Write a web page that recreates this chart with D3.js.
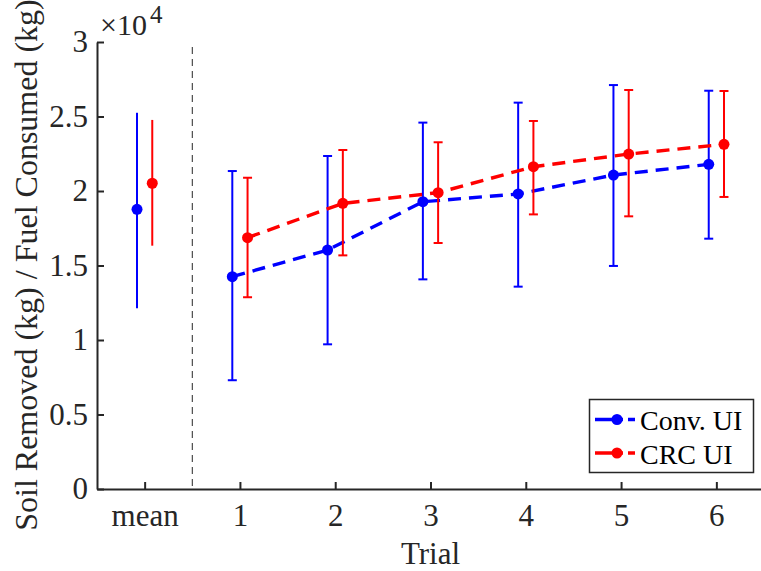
<!DOCTYPE html>
<html><head><meta charset="utf-8">
<script src="https://cdn.jsdelivr.net/npm/d3@7/dist/d3.min.js"></script>
<style>body{margin:0;background:#fff}svg{display:block}</style>
</head><body>
<script>
const categories = ["mean","1","2","3","4","5","6"];
const convMean = [1.877,1.425,1.604,1.928,1.980,2.107,2.179];
const convLow  = [1.213,0.730,0.971,1.407,1.358,1.497,1.680];
const convHigh = [2.525,2.134,2.235,2.459,2.593,2.711,2.673];
const crcMean  = [2.052,1.687,1.917,1.989,2.163,2.248,2.313];
const crcLow   = [1.633,1.287,1.568,1.651,1.843,1.830,1.960];
const crcHigh  = [2.477,2.089,2.275,2.327,2.470,2.678,2.671];
const yTicks = [0,0.5,1,1.5,2,2.5,3];
const yTickLabels = ["0","0.5","1","1.5","2","2.5","3"];

const FONT='"Liberation Serif","Times New Roman",Times,serif';
const W=761,H=571;
const svg=d3.select("body").append("svg").attr("width",W).attr("height",H);
const x=d3.scaleLinear().domain([-0.5,6.5]).range([97,764]);
const y=d3.scaleLinear().domain([0,3]).range([489,42]);
const axisColor="#262626";
const off=0.08;

// axes
const gx=svg.append("g").attr("transform","translate(0,489)")
 .call(d3.axisBottom(x).tickValues(d3.range(7)).tickFormat(i=>categories[i]).tickSizeInner(-7).tickSizeOuter(0).tickPadding(15));
const gy=svg.append("g").attr("transform","translate(97,0)")
 .call(d3.axisLeft(y).tickValues(yTicks).tickFormat((d,i)=>yTickLabels[i]).tickSizeInner(-7).tickSizeOuter(0).tickPadding(9));
[gx,gy].forEach(g=>{
  g.attr("font-family",FONT).attr("font-size",31);
  g.selectAll("path").attr("stroke",axisColor).attr("stroke-width",2);
  g.selectAll("line").attr("stroke",axisColor).attr("stroke-width",2);
  g.selectAll("text").attr("fill",axisColor).attr("font-family",FONT).attr("font-size",31);
});

// divider
svg.append("line").attr("x1",x(0.5)).attr("x2",x(0.5)).attr("y1",47).attr("y2",489)
 .attr("stroke","#262626").attr("stroke-width",1).attr("stroke-dasharray","7,5");

function series(mean,low,high,color,dx){
  const g=svg.append("g");
  const pts=d3.range(1,7);
  g.append("path").datum(pts)
   .attr("d",d3.line().x(i=>x(i+dx)).y(i=>y(mean[i])))
   .attr("fill","none").attr("stroke",color).attr("stroke-width",3.4).attr("stroke-dasharray","13,8");
  d3.range(7).forEach(i=>{
    const cx=x(i+dx);
    g.append("line").attr("x1",cx).attr("x2",cx).attr("y1",y(low[i])).attr("y2",y(high[i]))
      .attr("stroke",color).attr("stroke-width",2);
    if(i>0){
      [low[i],high[i]].forEach(v=>g.append("line").attr("x1",cx-4.5).attr("x2",cx+4.5)
        .attr("y1",y(v)).attr("y2",y(v)).attr("stroke",color).attr("stroke-width",2));
    }
    g.append("circle").attr("cx",cx).attr("cy",y(mean[i])).attr("r",5.5).attr("fill",color);
  });
}
series(convMean,convLow,convHigh,"#0000ff",-off);
series(crcMean,crcLow,crcHigh,"#ff0000",off);

// exponent
const ex=svg.append("text").attr("x",100).attr("y",35).attr("font-family",FONT).attr("font-size",30).attr("fill",axisColor);
ex.append("tspan").text("\u00d710");
ex.append("tspan").attr("dy",-12).attr("dx",3).attr("font-size",25).text("4");

// labels
svg.append("text").attr("x",430.5).attr("y",564).attr("text-anchor","middle")
 .attr("font-family",FONT).attr("font-size",31).attr("fill",axisColor).text("Trial");
svg.append("text").attr("transform","translate(37,265) rotate(-90)").attr("text-anchor","middle")
 .attr("font-family",FONT).attr("font-size",32).attr("fill",axisColor)
 .text("Soil Removed (kg) / Fuel Consumed (kg)");

// legend
const lg=svg.append("g");
lg.append("rect").attr("x",589.5).attr("y",399.5).attr("width",164).attr("height",73)
 .attr("fill","#fff").attr("stroke",axisColor).attr("stroke-width",1.5);
[["Conv. UI","#0000ff"],["CRC UI","#ff0000"]].forEach((d,i)=>{
  const yy=419.5+i*33.5;
  lg.append("line").attr("x1",595).attr("x2",635).attr("y1",yy).attr("y2",yy)
    .attr("stroke",d[1]).attr("stroke-width",3.4).attr("stroke-dasharray","28,5,7");
  lg.append("circle").attr("cx",617).attr("cy",yy).attr("r",5.5).attr("fill",d[1]);
  lg.append("text").attr("x",640).attr("y",yy+10.5).attr("font-family",FONT).attr("font-size",28).attr("fill","#000").text(d[0]);
});
</script>
</body></html>
